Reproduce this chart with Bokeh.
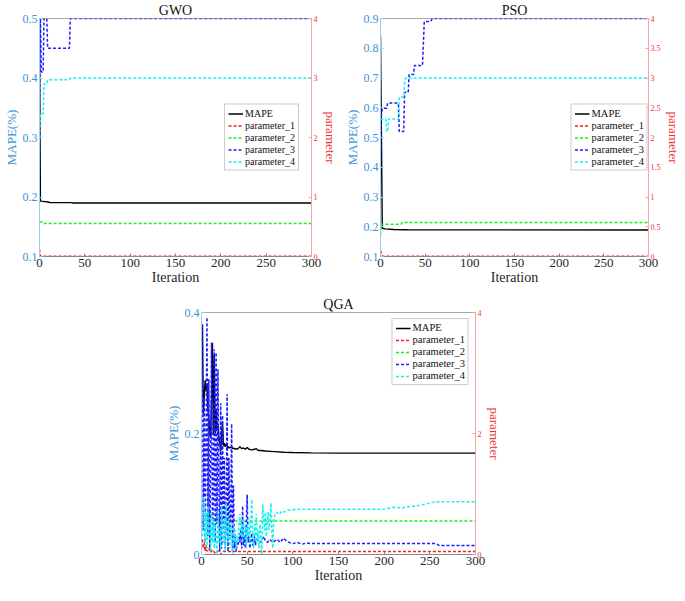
from bokeh.plotting import figure
from bokeh.models import Range1d, LinearAxis, FixedTicker, CustomJSTickFormatter, Spacer
from bokeh.layouts import column, row
from bokeh.embed import file_html
from bokeh.resources import INLINE

# ---------------- data ----------------
# GWO
gwo_mape_x = [0, 1, 10, 11, 35, 36, 300]
gwo_mape_y = [0.46, 0.193, 0.1915, 0.1905, 0.1905, 0.19, 0.19]
gwo_p1_x = [0, 1, 300]
gwo_p1_y = [0.12, 0.005, 0.005]
gwo_p2_x = [0, 3, 4, 300]
gwo_p2_y = [0.58, 0.58, 0.555, 0.555]
gwo_p3_x = [0, 1, 2, 4, 5, 8, 9, 33, 34, 300]
gwo_p3_y = [2.35, 4.0, 3.1, 3.1, 4.0, 4.0, 3.5, 3.5, 4.0, 4.0]
gwo_p4_x = [0, 1, 4, 5, 8, 9, 33, 34, 300]
gwo_p4_y = [2.0, 2.4, 2.4, 2.9, 2.9, 2.97, 2.97, 3.0, 3.0]

# PSO
pso_mape_x = [0, 2, 5, 15, 30, 300]
pso_mape_y = [0.843, 0.195, 0.193, 0.191, 0.19, 0.189]
pso_p1_x = [0, 2, 300]
pso_p1_y = [0.1, 0.005, 0.005]
pso_p2_x = [0, 1, 23, 24, 300]
pso_p2_y = [0.36, 0.54, 0.54, 0.57, 0.57]
pso_p3_x = [0, 1, 2, 7, 8, 20, 21, 26, 27, 31, 32, 37, 38, 47, 49, 56, 58, 300]
pso_p3_y = [1.51, 2.38, 2.49, 2.49, 2.58, 2.58, 2.1, 2.1, 2.76, 2.76, 3.06, 3.06, 3.21, 3.21, 3.95, 3.95, 4.0, 4.0]
pso_p4_x = [0, 6, 7, 8, 9, 20, 21, 26, 27, 28, 300]
pso_p4_y = [2.31, 2.31, 2.1, 2.1, 2.31, 2.31, 2.68, 2.68, 2.92, 3.0, 3.0]

# QGA
qga_mape_x = list(range(1, 41)) + [42, 44, 46, 48, 50, 52, 55, 58, 60, 62, 65, 70, 75, 80, 90, 100, 120, 150, 200, 300]
qga_mape_y = [0.380, 0.232, 0.262, 0.288, 0.270, 0.283, 0.240, 0.225, 0.205, 0.192,
              0.260, 0.350, 0.197, 0.330, 0.200, 0.240, 0.205, 0.212, 0.195, 0.185,
              0.171, 0.195, 0.219, 0.180, 0.184, 0.178, 0.182, 0.181, 0.176, 0.178,
              0.176, 0.177, 0.178, 0.175, 0.176, 0.175, 0.174, 0.175, 0.174, 0.175,
              0.178, 0.175, 0.176, 0.174, 0.177, 0.174, 0.173, 0.174, 0.175, 0.172,
              0.172, 0.171, 0.1705, 0.170, 0.169, 0.1685, 0.168, 0.1675, 0.1675, 0.1675]
qga_p1_x = [1, 2, 3, 4, 5, 6, 8, 10, 12, 15, 18, 20, 22, 24, 300]
qga_p1_y = [0.25, 0.10, 0.20, 0.05, 0.15, 0.05, 0.10, 0.03, 0.08, 0.02, 0.06, 0.05, 0.0, 0.05, 0.05]
qga_p2_x = [1, 2, 3, 5, 7, 9, 11, 13, 15, 18, 20, 25, 30, 300]
qga_p2_y = [0.50, 0.60, 0.55, 0.67, 0.60, 0.70, 0.58, 0.62, 0.55, 0.60, 0.56, 0.58, 0.555, 0.555]
qga_p3_x = list(range(1, 61)) + [62, 65, 68, 70, 72, 75, 78, 80, 83, 86, 90, 93, 96, 100, 105, 110, 115, 120, 257, 260, 300]
qga_p3_y = [3.80, 0.40, 2.60, 0.20, 1.80, 3.92, 0.30, 2.90, 0.10, 1.50,
            3.50, 0.30, 0.90, 3.39, 0.20, 3.34, 0.50, 3.06, 1.20, 0.05,
            2.50, 0.10, 2.30, 0.20, 1.60, 0.10, 0.50, 2.65, 0.05, 1.60,
            0.30, 0.60, 2.16, 0.05, 1.14, 0.10, 0.30, 0.05, 0.20, 0.15,
            0.35, 0.20, 0.40, 0.10, 0.80, 0.15, 0.30, 0.10, 0.50, 0.99,
            0.20, 0.30, 0.10, 0.25, 0.35, 0.15, 0.20, 0.30, 0.15, 0.25,
            0.25, 0.20, 0.30, 0.22, 0.20, 0.25, 0.20, 0.22, 0.25, 0.20,
            0.27, 0.22, 0.20, 0.18, 0.20, 0.17, 0.19, 0.18, 0.18, 0.15, 0.15]
qga_p4_x = list(range(1, 81)) + [82, 85, 88, 90, 95, 100, 110, 120, 200, 210, 220, 225, 235, 240, 245, 250, 255, 260, 300]
qga_p4_y = [0.30, 0.60, 0.95, 0.20, 0.70, 0.10, 0.80, 0.30, 0.55, 0.05,
            0.75, 0.20, 0.60, 0.10, 0.50, 0.30, 0.00, 0.70, 0.20, 0.45,
            0.10, 0.80, 0.30, 0.20, 0.60, 0.05, 0.85, 0.40, 0.20, 0.60,
            0.10, 0.50, 0.30, 0.00, 0.50, 0.20, 0.40, 0.10, 0.30, 0.20,
            0.50, 0.67, 0.30, 0.50, 0.20, 0.60, 0.30, 0.45, 0.10, 0.50,
            0.30, 0.60, 0.20, 0.50, 0.91, 0.30, 0.10, 0.50, 0.30, 0.67,
            0.20, 0.40, 0.10, 0.50, 0.30, 0.00, 0.83, 0.60, 0.40, 0.70,
            0.30, 0.50, 0.70, 0.40, 0.60, 0.85, 0.40, 0.10, 0.55, 0.65,
            0.70, 0.66, 0.72, 0.70, 0.73, 0.74, 0.75, 0.75, 0.75, 0.78,
            0.77, 0.79, 0.80, 0.82, 0.83, 0.85, 0.87, 0.87, 0.87]

x_ticks = [0, 50, 100, 150, 200, 250, 300]
series_labels = ["MAPE", "parameter_1", "parameter_2", "parameter_3", "parameter_4"]

# ---------------- style ----------------
FONT = "Liberation Serif"
LEFT_C = "#3a93d4"
LEFT_LINE = "#9fcdec"
RIGHT_C = "#f03030"
RIGHT_LINE = "#f2a6ac"
PAR_COLORS = ["#ff1a1a", "#1aee1a", "#1a1aff", "#1aeeee"]

fmt_code = "return String(Math.round(tick*1000)/1000);"


def style_axis(ax, line_c, label_c, tick_size, label_size, s1, s2):
    ax.axis_line_color = line_c
    ax.major_tick_line_color = line_c
    ax.major_tick_in = 3
    ax.major_tick_out = 0
    ax.minor_tick_line_color = None
    ax.major_label_text_color = label_c
    ax.major_label_text_font = FONT
    ax.major_label_text_font_size = tick_size
    ax.axis_label_text_font = FONT
    ax.axis_label_text_font_style = "normal"
    ax.axis_label_text_color = label_c
    ax.axis_label_text_font_size = label_size
    ax.major_label_standoff = s1
    ax.axis_label_standoff = s2
    ax.formatter = CustomJSTickFormatter(code=fmt_code)


def panel(title, fw, fh, borders, yr, yticks, pticks, series, legend_loc, legend_margin, lg_font):
    bl, br, bt, bb = borders
    p = figure(frame_width=fw, frame_height=fh, x_range=Range1d(0, 300), y_range=Range1d(*yr),
               output_backend="svg", toolbar_location=None,
               min_border_left=bl, min_border_right=br, min_border_bottom=bb, min_border_top=bt)
    p.title.text = title
    p.title.align = "center"
    p.title.text_font = FONT
    p.title.text_font_style = "normal"
    p.title.text_font_size = "14px"
    p.title.text_color = "#111111"
    p.title.standoff = 1
    p.xgrid.grid_line_color = None
    p.ygrid.grid_line_color = None
    p.outline_line_color = "#a8a8a8"
    p.background_fill_color = "white"
    p.border_fill_color = "white"

    p.extra_y_ranges = {"par": Range1d(0, 4)}
    rax = LinearAxis(y_range_name="par", axis_label="parameter")
    p.add_layout(rax, "right")

    xa = p.xaxis[0]
    style_axis(xa, "#8a8a8a", "#262626", "13px", "14px", 2, 0)
    xa.axis_label = "Iteration"
    xa.ticker = FixedTicker(ticks=x_ticks)

    ya = p.yaxis[0]
    style_axis(ya, LEFT_LINE, LEFT_C, "12px", "13px", 2, 1)
    ya.axis_label = "MAPE(%)"
    ya.ticker = FixedTicker(ticks=yticks)

    style_axis(rax, RIGHT_LINE, RIGHT_C, "8px", "13px", 2, 2)
    rax.ticker = FixedTicker(ticks=pticks)

    (mx, my), *params = series
    p.line(mx, my, line_color="black", line_width=1.4, legend_label=series_labels[0])
    for i, (px, py) in enumerate(params):
        p.line(px, py, y_range_name="par", line_color=PAR_COLORS[i], line_width=1.5,
               line_dash="3 2", legend_label=series_labels[i + 1])

    lg = p.legend[0]
    lg.location = legend_loc
    lg.margin = legend_margin
    lg.border_line_color = "#9a9a9a"
    lg.border_line_width = 1
    lg.background_fill_color = "white"
    lg.background_fill_alpha = 1.0
    lg.label_text_font = FONT
    lg.label_text_font_size = lg_font
    lg.label_text_color = "#111111"
    lg.label_height = 10
    lg.glyph_height = 10
    lg.glyph_width = 15
    lg.label_standoff = 2
    lg.spacing = 1
    lg.padding = 3
    return p


gwo = panel("GWO", 272, 238, (31, 26, 14, 34), (0.1, 0.5), [0.1, 0.2, 0.3, 0.4, 0.5], [0, 1, 2, 3, 4],
            [(gwo_mape_x, gwo_mape_y), (gwo_p1_x, gwo_p1_y), (gwo_p2_x, gwo_p2_y),
             (gwo_p3_x, gwo_p3_y), (gwo_p4_x, gwo_p4_y)], "right", 12, "10px")
pso = panel("PSO", 268, 238, (40, 30, 14, 34), (0.1, 0.9), [0.1, 0.2, 0.3, 0.4, 0.5, 0.6, 0.7, 0.8, 0.9],
            [0, 0.5, 1, 1.5, 2, 2.5, 3, 3.5, 4],
            [(pso_mape_x, pso_mape_y), (pso_p1_x, pso_p1_y), (pso_p2_x, pso_p2_y),
             (pso_p3_x, pso_p3_y), (pso_p4_x, pso_p4_y)], "right", 0, "10.5px")
qga = panel("QGA", 274, 242, (37, 28, 22, 34), (0, 0.4), [0, 0.2, 0.4], [0, 2, 4],
            [(qga_mape_x, qga_mape_y), (qga_p1_x, qga_p1_y), (qga_p2_x, qga_p2_y),
             (qga_p3_x, qga_p3_y), (qga_p4_x, qga_p4_y)], "top_right", 6, "10.5px")

layout = column(row(gwo, pso), row(Spacer(width=162, height=10), qga))

open("out.html", "w").write(file_html(layout, INLINE))
